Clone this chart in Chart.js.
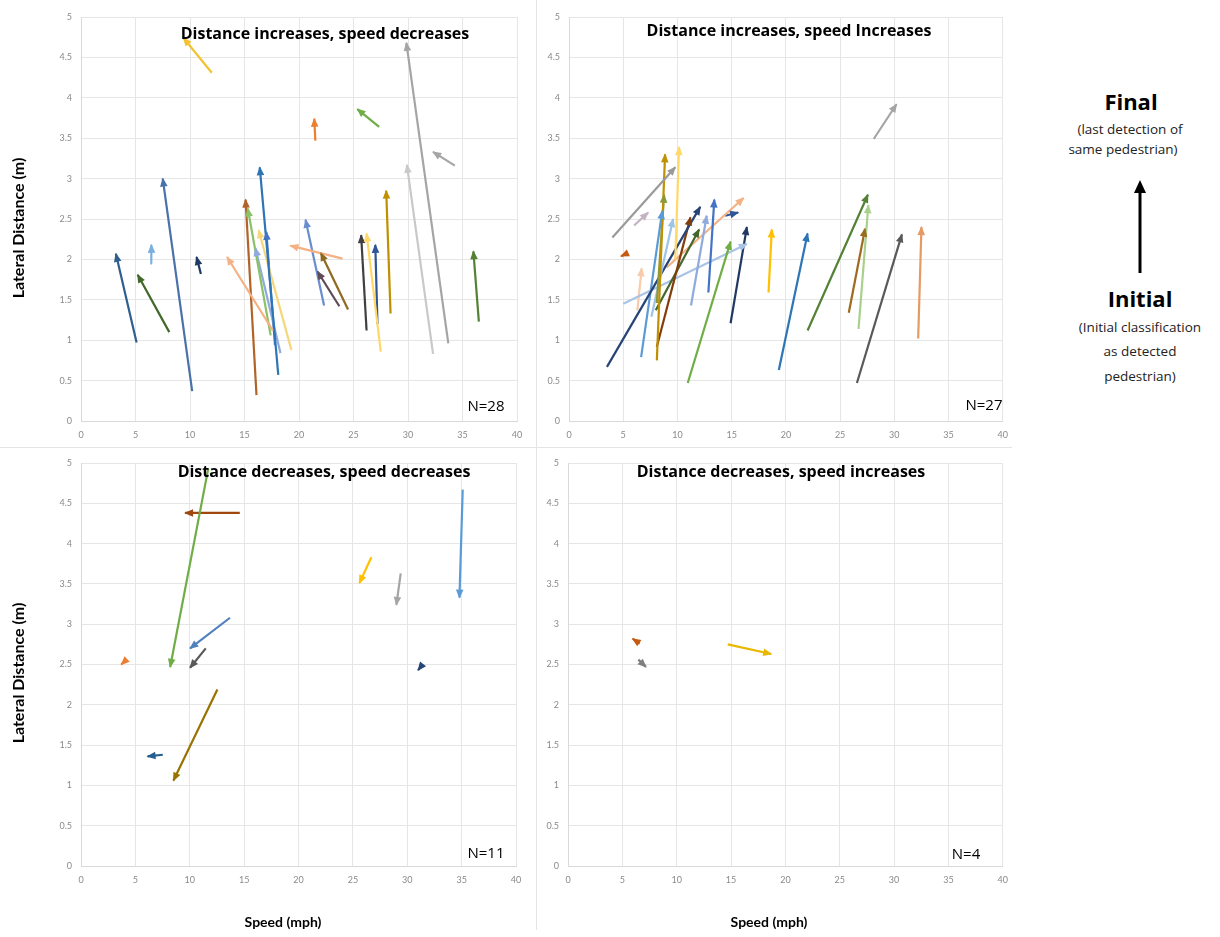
<!DOCTYPE html>
<html>
<head>
<meta charset="utf-8">
<script src="https://cdn.jsdelivr.net/npm/chart.js@4.4.0/dist/chart.umd.min.js"></script>
<style>
  body { margin: 0; background: #fff; font-family: Lato, "Open Sans", sans-serif; }
  #wrap { position: relative; width: 1220px; height: 937px; overflow: hidden; background: #fff; }
  canvas { position: absolute; }
  .t { position: absolute; white-space: nowrap; color: #000; transform: translate(-50%, -50%); }
  .ttl { font-family: "Open Sans", sans-serif; font-size: 16px; font-weight: bold; }
  .n { font-family: "Open Sans", sans-serif; font-size: 15px; }
  .ax { font-size: 14px; font-weight: bold; }
  .yax { font-size: 16px; font-weight: bold; transform: translate(-50%, -50%) rotate(-90deg); }
  .note { font-family: "Open Sans", sans-serif; font-size: 13.5px; color: #222; }
  .big { font-family: "Open Sans", sans-serif; font-size: 22px; font-weight: bold; }
  .div { position: absolute; background: #e4e4e4; }
</style>
</head>
<body>
<div id="wrap">
  <div class="div" style="left:536px;top:0;width:1px;height:930px"></div>
  <div class="div" style="left:0;top:447px;width:1012px;height:1px"></div>

  <canvas id="c1" width="536" height="447" style="left:0;top:0"></canvas>
  <canvas id="c2" width="480" height="447" style="left:537px;top:0"></canvas>
  <canvas id="c3" width="536" height="489" style="left:0;top:448px"></canvas>
  <canvas id="c4" width="480" height="489" style="left:537px;top:448px"></canvas>

  <div class="t ttl" style="left:325px;top:33px">Distance increases, speed decreases</div>
  <div class="t ttl" style="left:789px;top:30px">Distance increases, speed Increases</div>
  <div class="t ttl" style="left:324px;top:471px">Distance decreases, speed decreases</div>
  <div class="t ttl" style="left:781px;top:471px">Distance decreases, speed increases</div>

  <div class="t n" style="left:486px;top:405px">N=28</div>
  <div class="t n" style="left:984px;top:404px">N=27</div>
  <div class="t n" style="left:486px;top:852px">N=11</div>
  <div class="t n" style="left:966px;top:853px">N=4</div>

  <div class="t yax" style="left:17px;top:228px">Lateral Distance (m)</div>
  <div class="t yax" style="left:17px;top:673px">Lateral Distance (m)</div>
  <div class="t ax" style="left:283px;top:921px">Speed (mph)</div>
  <div class="t ax" style="left:769px;top:921px">Speed (mph)</div>

  <div class="t big" style="left:1131px;top:101px">Final</div>
  <div class="t note" style="left:1130px;top:129px">(last detection of</div>
  <div class="t note" style="left:1123px;top:149px">same pedestrian)</div>
  <svg style="position:absolute;left:1128px;top:176px" width="24" height="100">
    <line x1="12" y1="14" x2="12" y2="97" stroke="#000" stroke-width="3"/>
    <polygon points="12,4 6,17 18,17" fill="#000"/>
  </svg>
  <div class="t big" style="left:1140px;top:298px">Initial</div>
  <div class="t note" style="left:1140px;top:327px">(Initial classification</div>
  <div class="t note" style="left:1140px;top:351px">as detected</div>
  <div class="t note" style="left:1140px;top:376px">pedestrian)</div>
</div>

<script>
// axis ticks
const speedTicks = [0, 5, 10, 15, 20, 25, 30, 35, 40];
const distTicks = [0, 0.5, 1, 1.5, 2, 2.5, 3, 3.5, 4, 4.5, 5];

// Panel 1: distance increases, speed decreases (initial -> final)
const p1SpeedStart = [12.0, 5.1, 6.5, 8.1, 10.2, 11.0, 17.6, 16.1, 17.4, 18.1, 19.3, 18.3, 17.8, 24.0,
  22.3, 24.5, 23.7, 21.5, 27.35, 33.7, 32.3, 34.3, 26.2, 27.5, 27.2, 28.4, 36.5];
const p1DistStart = [4.31, 0.97, 1.95, 1.10, 0.37, 1.82, 1.12, 0.32, 1.06, 0.57, 0.88, 0.84, 0.94, 2.01,
  1.43, 1.38, 1.42, 3.47, 3.64, 0.96, 0.83, 3.16, 1.12, 0.86, 1.20, 1.33, 1.23];
const p1SpeedEnd = [9.4, 3.2, 6.45, 5.2, 7.5, 10.6, 13.4, 15.1, 15.3, 16.4, 16.3, 16.0, 17.0, 19.2,
  20.6, 22.0, 21.7, 21.4, 25.35, 29.85, 29.9, 32.3, 25.7, 26.2, 27.0, 28.0, 36.0];
const p1DistEnd = [4.74, 2.07, 2.18, 1.81, 3.00, 2.03, 2.03, 2.74, 2.63, 3.14, 2.36, 2.14, 2.34, 2.17,
  2.49, 2.08, 1.85, 3.74, 3.86, 4.68, 3.17, 3.33, 2.30, 2.32, 2.18, 2.85, 2.10];
const p1Colors = ['#f2c230', '#2f5f8f', '#7cafdd', '#43682b', '#4a72a8', '#1f3864', '#f4b183', '#b0642a',
  '#8cc168', '#2e75b6', '#f5d77a', '#8faadc', '#4472c4', '#f4b183', '#698ed0', '#8d6a1f', '#5e4b56',
  '#ed7d31', '#70ad47', '#a5a5a5', '#c9c9c9', '#a5a5a5', '#404040', '#ffd966', '#2f5597', '#bf9000', '#548235'];

// Panel 2: distance increases, speed increases
const p2SpeedStart = [4.0, 6.0, 8.1, 9.8, 8.1, 7.6, 3.5, 8.1, 8.0, 11.25, 12.85, 9.0, 14.4, 14.9, 10.95,
  5.0, 5.3, 6.3, 6.65, 28.1, 22.0, 26.7, 25.8, 26.55, 32.2, 19.35, 18.4];
const p2DistStart = [2.27, 2.42, 0.75, 2.00, 1.46, 1.29, 0.67, 0.92, 1.37, 1.43, 1.59, 1.90, 2.54, 1.21, 0.47,
  1.45, 2.07, 1.37, 0.79, 3.49, 1.12, 1.14, 1.34, 0.47, 1.02, 0.63, 1.59];
const p2SpeedEnd = [9.8, 7.3, 8.86, 10.15, 8.77, 9.6, 12.1, 11.2, 12.0, 12.7, 13.4, 16.1, 15.6, 16.4, 14.9,
  16.4, 4.8, 6.7, 8.6, 30.2, 27.56, 27.6, 27.3, 30.7, 32.5, 22.0, 18.7];
const p2DistEnd = [3.14, 2.58, 3.30, 3.39, 2.80, 2.50, 2.65, 2.52, 2.37, 2.54, 2.74, 2.76, 2.58, 2.40, 2.22,
  2.19, 2.04, 1.89, 2.60, 3.92, 2.80, 2.67, 2.38, 2.31, 2.40, 2.32, 2.37];
const p2Colors = ['#9a9a9a', '#c3b3c4', '#bf9000', '#ffd966', '#8a9a3a', '#9dc3e6', '#264478', '#843c0c',
  '#43682b', '#8faadc', '#4472c4', '#f4b183', '#2f5597', '#203864', '#70ad47', '#a9c4e4', '#c55a11',
  '#f8cbad', '#5b9bd5', '#a5a5a5', '#548235', '#a9d18e', '#9c6b1e', '#595959', '#e69a63', '#2e75b6', '#ffc000'];

// Panel 3: distance decreases, speed decreases
const p3SpeedStart = [11.7, 14.6, 13.7, 11.47, 4.1, 12.54, 7.52, 26.7, 29.4, 35.1, 31.4];
const p3DistStart = [4.93, 4.38, 3.08, 2.70, 2.55, 2.19, 1.38, 3.83, 3.63, 4.67, 2.50];
const p3SpeedEnd = [8.2, 9.57, 10.03, 10.03, 3.7, 8.5, 6.12, 25.6, 29.0, 34.8, 31.0];
const p3DistEnd = [2.47, 4.38, 2.70, 2.46, 2.50, 1.06, 1.36, 3.51, 3.24, 3.33, 2.43];
const p3Colors = ['#70ad47', '#9e480e', '#4f81bd', '#595959', '#ed7d31', '#997300', '#255e91',
  '#ffc000', '#a5a5a5', '#5b9bd5', '#264478'];

// Panel 4: distance decreases, speed increases
const p4SpeedStart = [6.6, 6.47, 14.7];
const p4DistStart = [2.76, 2.56, 2.75];
const p4SpeedEnd = [5.95, 7.17, 18.7];
const p4DistEnd = [2.82, 2.47, 2.63];
const p4Colors = ['#c55a11', '#7f7f7f', '#e8b800'];

const arrowHeads = {
  id: 'arrowHeads',
  afterDatasetsDraw(chart) {
    const ctx = chart.ctx;
    chart.data.datasets.forEach((ds, i) => {
      const pts = chart.getDatasetMeta(i).data;
      if (pts.length < 2) return;
      const a = pts[0], b = pts[1];
      const ang = Math.atan2(b.y - a.y, b.x - a.x);
      ctx.save();
      ctx.translate(b.x, b.y);
      ctx.rotate(ang);
      ctx.beginPath();
      ctx.moveTo(1, 0);
      ctx.lineTo(-8, -3.8);
      ctx.lineTo(-8, 3.8);
      ctx.closePath();
      ctx.fillStyle = ds.borderColor;
      ctx.fill();
      ctx.restore();
    });
  }
};

function makePanel(id, sx0, dy0, sx1, dy1, colors, box) {
  const canvas = document.getElementById(id);
  const W = canvas.width, H = canvas.height;
  const datasets = sx0.map((s, i) => ({
    data: [{ x: s, y: dy0[i] }, { x: sx1[i], y: dy1[i] }],
    borderColor: colors[i],
    borderWidth: 2.2,
    pointRadius: 0,
    showLine: true,
    fill: false
  }));
  const tickFont = { family: 'Lato', size: 9 };
  return new Chart(canvas.getContext('2d'), {
    type: 'scatter',
    data: { datasets },
    options: {
      responsive: false,
      animation: false,
      layout: { padding: { left: 0, top: box.top, right: W - box.right, bottom: 0 } },
      plugins: { legend: { display: false }, tooltip: { enabled: false } },
      scales: {
        x: {
          type: 'linear', min: 0, max: 40,
          afterBuildTicks: s => { s.ticks = speedTicks.map(v => ({ value: v })); },
          afterFit: s => { s.height = H - box.bottom; },
          grid: { color: '#e6e6e6', drawTicks: false },
          border: { color: '#d9d9d9' },
          ticks: { font: tickFont, color: '#8a8a8a', padding: 9, maxRotation: 0, callback: v => String(v) }
        },
        y: {
          type: 'linear', min: 0, max: 5,
          afterBuildTicks: s => { s.ticks = distTicks.map(v => ({ value: v })); },
          afterFit: s => { s.width = box.left; },
          grid: { color: '#e6e6e6', drawTicks: false },
          border: { color: '#d9d9d9' },
          ticks: { font: tickFont, color: '#8a8a8a', padding: 9, callback: v => String(v) }
        }
      }
    },
    plugins: [arrowHeads]
  });
}

makePanel('c1', p1SpeedStart, p1DistStart, p1SpeedEnd, p1DistEnd, p1Colors,
  { left: 81, right: 517, top: 17, bottom: 421 });
makePanel('c2', p2SpeedStart, p2DistStart, p2SpeedEnd, p2DistEnd, p2Colors,
  { left: 32, right: 466, top: 17, bottom: 421 });
makePanel('c3', p3SpeedStart, p3DistStart, p3SpeedEnd, p3DistEnd, p3Colors,
  { left: 81, right: 516, top: 15, bottom: 418 });
makePanel('c4', p4SpeedStart, p4DistStart, p4SpeedEnd, p4DistEnd, p4Colors,
  { left: 31, right: 466, top: 15, bottom: 418 });
</script>
</body>
</html>
